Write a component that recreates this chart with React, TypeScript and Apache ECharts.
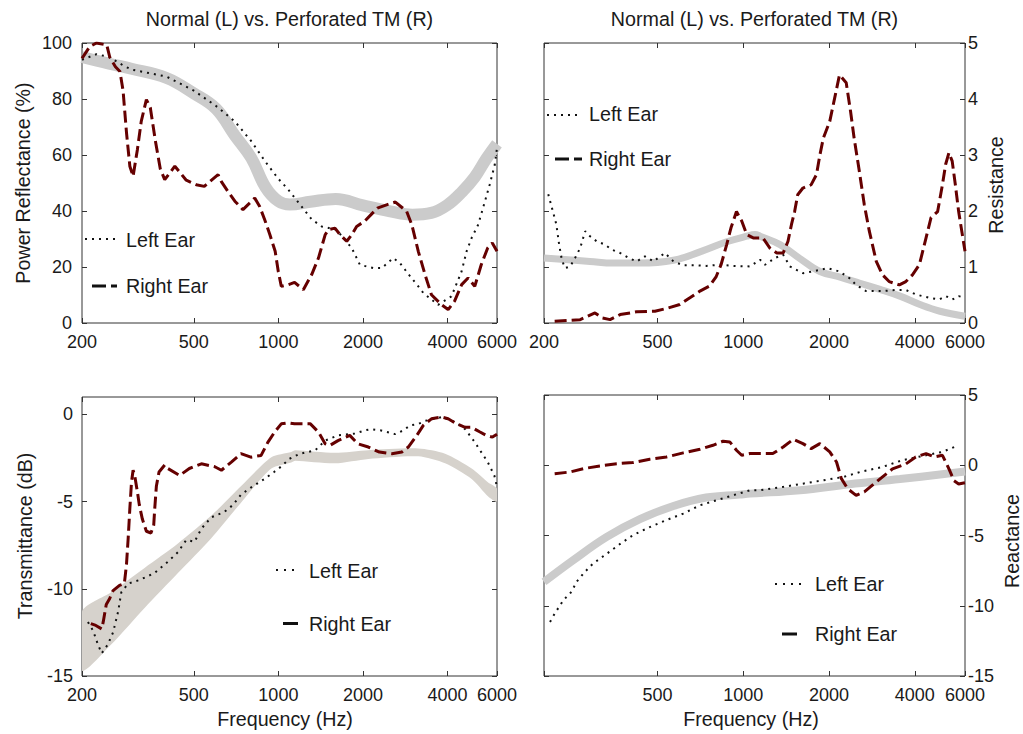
import React, { useEffect, useRef } from "react";
import * as echarts from "echarts";

const FONT = '"Liberation Sans", Arial, Helvetica, sans-serif';
const TEXT = "#1a1a1a";
const RED = "#650000";
const DOT = "#111111";
const BAND = "#cbcbcb";
const BAND3 = "#d6d2cc";

const xTicks = [200, 500, 1000, 2000, 4000, 6000];
const xTicksNoMin = [500, 1000, 2000, 4000, 6000];
const reflTicks = [0, 20, 40, 60, 80, 100];
const resTicks = [0, 1, 2, 3, 4, 5];
const transTicks = [-15, -10, -5, 0];
const reactTicks = [-15, -10, -5, 0, 5];

// Panel 1: Power reflectance (%)
const reflNormFreq = [200, 250, 300, 400, 500, 600, 700, 800, 900, 1000, 1100, 1300, 1600, 2000, 2500, 3000, 3500, 4000, 4500, 5000, 5500, 6000];
const reflNormVal = [95, 92.6, 90.8, 87.5, 82, 76.5, 67, 59, 48.5, 43.5, 42.3, 43.3, 44.3, 42, 39.9, 38.7, 39.3, 42.2, 46.8, 52.1, 58.7, 64];
const reflLeftFreq = [200, 225, 250, 280, 300, 400, 500, 600, 700, 800, 900, 1000, 1085, 1194, 1314, 1426, 1612, 1702, 1824, 1951, 2177, 2332, 2564, 2709, 2942, 3148, 3282, 3700, 4130, 4491, 4677, 4875, 5140, 5437, 5650, 5890, 6000];
const reflLeftVal = [94, 96, 95, 92, 90.5, 88, 83, 77.5, 72, 65, 57.5, 51.5, 47.6, 42.3, 37, 34.5, 33.3, 30.4, 26.8, 20.8, 19.6, 19.6, 23.2, 21.4, 16.7, 13.1, 10.7, 6.5, 9.5, 18.5, 25.6, 30.4, 35.1, 43.5, 49.4, 56.5, 62.5];
const reflRightFreq = [200, 213, 225, 245, 251, 263, 273, 280, 288, 296, 304, 315, 325, 339, 350, 365, 380, 394, 428, 470, 510, 545, 610, 626, 661, 700, 748, 780, 824, 857, 894, 933, 974, 999, 1024, 1085, 1142, 1227, 1314, 1389, 1467, 1507, 1590, 1659, 1751, 1824, 1899, 2025, 2137, 2250, 2441, 2609, 2860, 2985, 3148, 3326, 3506, 3812, 4020, 4237, 4491, 4733, 5000, 5273, 5559, 5773, 6000];
const reflRightVal = [94.5, 98.7, 100, 99.3, 95, 91.5, 89.8, 83, 68, 56, 52.4, 62, 72, 79.8, 77, 65, 55, 51.2, 56, 51, 49.4, 48.8, 53, 50.6, 47, 43.5, 40.5, 42.3, 44.6, 41.7, 36.9, 31.5, 25.6, 18.5, 13.1, 13.7, 14.5, 11.9, 17.3, 23.2, 31.5, 33.3, 33.9, 31.5, 29.2, 31.5, 34.5, 36.3, 38.7, 41, 42.3, 43.2, 39.9, 35.1, 25.6, 17.3, 10.1, 6.5, 4.8, 7.8, 13.7, 16.1, 13.1, 20.8, 26.8, 28.6, 25.6];

// Panel 2: Resistance
const resNormFreq = [200, 290, 350, 434, 569, 705, 875, 1029, 1100, 1146, 1346, 1582, 1858, 2187, 2568, 3020, 3549, 4170, 4904, 6000];
const resNormVal = [1.16, 1.1, 1.07, 1.07, 1.12, 1.27, 1.45, 1.55, 1.58, 1.55, 1.4, 1.15, 0.92, 0.82, 0.71, 0.6, 0.48, 0.33, 0.21, 0.12];
const resLeftFreq = [207, 215, 221, 226, 231, 237, 247, 257, 268, 279, 290, 306, 327, 346, 370, 397, 423, 452, 484, 531, 569, 616, 684, 741, 829, 920, 1056, 1146, 1193, 1292, 1381, 1458, 1620, 1755, 1975, 2177, 2360, 2490, 2700, 3082, 3430, 3720, 4032, 4490, 4870, 5140, 5420, 5700, 6000];
const resLeftVal = [2.3, 1.99, 1.76, 1.4, 1.13, 0.98, 1.01, 1.16, 1.34, 1.64, 1.55, 1.46, 1.4, 1.31, 1.25, 1.16, 1.1, 1.19, 1.1, 1.25, 1.1, 1.03, 1.03, 1.02, 1.04, 1.02, 1.01, 1.13, 1.04, 1.16, 1.22, 1.01, 0.89, 0.92, 0.98, 0.92, 0.8, 0.68, 0.57, 0.57, 0.59, 0.59, 0.51, 0.45, 0.42, 0.48, 0.42, 0.48, 0.45];
const resRightFreq = [218, 268, 302, 320, 341, 370, 423, 490, 538, 599, 650, 705, 762, 804, 836, 875, 906, 947, 988, 1029, 1084, 1172, 1239, 1312, 1381, 1436, 1477, 1515, 1553, 1620, 1732, 1807, 1858, 1910, 2012, 2094, 2177, 2298, 2380, 2450, 2555, 2660, 2770, 2930, 3082, 3250, 3530, 3720, 3925, 4150, 4380, 4560, 4810, 5000, 5130, 5270, 5410, 5550, 5700, 6000];
const resRightVal = [0.03, 0.06, 0.18, 0.09, 0.06, 0.15, 0.2, 0.21, 0.26, 0.33, 0.45, 0.57, 0.66, 0.83, 1.04, 1.4, 1.7, 1.99, 1.82, 1.58, 1.52, 1.52, 1.34, 1.25, 1.25, 1.46, 1.76, 1.99, 2.29, 2.41, 2.47, 2.65, 3.0, 3.3, 3.6, 4.02, 4.43, 4.29, 3.78, 3.3, 2.71, 2.11, 1.64, 1.1, 0.86, 0.74, 0.68, 0.74, 0.86, 1.04, 1.52, 1.88, 1.99, 2.47, 2.83, 3.04, 2.89, 2.47, 1.99, 1.28];

// Panel 3: Transmittance (dB)
const transNormFreq = [200, 254, 334, 439, 577, 759, 944, 1112, 1148, 1590, 2090, 3148, 3920, 4875, 5580, 6000];
const transNormLow = [-14.7, -13.2, -11.1, -9.1, -7.1, -4.8, -3.1, -2.75, -2.65, -2.8, -2.55, -2.4, -2.8, -3.7, -4.7, -5.0];
const transNormHigh = [-11.3, -10.2, -8.8, -7.4, -5.8, -3.9, -2.45, -2.15, -2.05, -2.2, -2.05, -1.95, -2.25, -3.1, -3.9, -4.25];
const transLeftFreq = [210, 219, 228, 235, 247, 258, 269, 276, 292, 320, 362, 404, 439, 470, 503, 532, 577, 641, 688, 736, 798, 892, 965, 1021, 1093, 1194, 1352, 1467, 1630, 1873, 2025, 2137, 2320, 2600, 2780, 2942, 3148, 3326, 3560, 3812, 4260, 4620, 5000, 5273, 5560, 5870, 6000];
const transLeftVal = [-11.9, -12.4, -13.2, -13.7, -13.2, -12.5, -11.3, -10.2, -9.7, -9.5, -9.1, -8.45, -7.9, -7.2, -7.3, -6.55, -5.9, -5.6, -5.2, -4.6, -4.2, -3.7, -3.3, -3.0, -2.55, -2.25, -2.06, -1.5, -1.2, -1.1, -0.92, -0.84, -0.92, -1.13, -0.92, -0.63, -0.55, -0.37, -0.27, -0.15, -0.44, -0.84, -1.59, -2.16, -2.73, -3.5, -4.16];
const transRightFreq = [215, 224, 235, 238, 244, 251, 258, 272, 283, 288, 292, 296, 300, 304, 308, 315, 320, 328, 339, 352, 360, 363, 368, 376, 394, 404, 445, 482, 532, 594, 627, 680, 736, 798, 868, 917, 970, 1024, 1081, 1142, 1247, 1300, 1389, 1467, 1525, 1630, 1795, 1918, 2090, 2288, 2535, 2750, 2900, 3110, 3280, 3506, 3812, 4020, 4310, 4620, 4875, 5220, 5490, 5780, 6000];
const transRightVal = [-12.0, -12.1, -12.3, -11.9, -10.9, -10.55, -10.1, -9.8, -9.7, -8.6, -7.1, -5.4, -3.9, -3.2, -3.5, -4.45, -5.2, -6.0, -6.7, -6.8, -6.35, -5.4, -4.1, -3.3, -2.9, -3.1, -3.5, -3.1, -2.83, -3.0, -3.2, -2.73, -2.25, -2.45, -2.35, -1.6, -1.01, -0.54, -0.48, -0.54, -0.54, -0.54, -1.01, -1.68, -1.78, -1.5, -1.2, -1.68, -1.87, -2.16, -2.25, -2.16, -1.87, -1.2, -0.63, -0.25, -0.15, -0.25, -0.54, -0.74, -0.74, -1.01, -1.2, -1.3, -1.13];

// Panel 4: Reactance
const reactNormFreq = [200, 253, 332, 434, 569, 741, 970, 1056, 1582, 2360, 3550, 6000];
const reactNormVal = [-8.3, -6.76, -5.1, -3.84, -2.9, -2.3, -2.09, -2.02, -1.78, -1.35, -0.98, -0.45];
const reactLeftFreq = [210, 218, 234, 250, 260, 278, 297, 332, 370, 410, 470, 538, 616, 705, 804, 920, 1056, 1146, 1381, 1620, 1910, 2250, 2568, 3082, 3620, 4380, 5000, 5700];
const reactLeftVal = [-11.15, -10.56, -9.6, -9.0, -8.3, -7.6, -7.0, -6.3, -5.6, -4.98, -4.4, -3.9, -3.44, -2.85, -2.5, -2.14, -1.78, -1.78, -1.54, -1.31, -1.07, -0.83, -0.48, -0.12, 0.36, 0.71, 0.95, 1.42];
const reactRightFreq = [218, 247, 275, 314, 360, 410, 470, 538, 616, 705, 783, 850, 897, 947, 988, 1056, 1146, 1270, 1381, 1500, 1620, 1732, 1858, 2012, 2125, 2210, 2325, 2490, 2660, 2840, 3082, 3340, 3720, 4030, 4380, 4680, 5000, 5270, 5490, 5700, 6000];
const reactRightVal = [-0.6, -0.48, -0.24, -0.05, 0.11, 0.19, 0.43, 0.59, 0.88, 1.14, 1.42, 1.71, 1.66, 1.07, 0.71, 0.83, 0.83, 0.83, 1.3, 1.85, 1.54, 1.18, 1.54, 0.95, 0.23, -0.95, -1.67, -2.14, -1.9, -1.42, -0.83, -0.26, 0.09, 0.59, 0.83, 0.59, 0.71, -0.26, -1.1, -1.33, -1.24];

const zip = (f: number[], v: number[]) => f.map((x, i) => [x, v[i]]);

const grids = [
  { left: 82, top: 43, width: 415, height: 280 },
  { left: 544, top: 43, width: 421, height: 280 },
  { left: 82, top: 397, width: 415, height: 279 },
  { left: 544, top: 395, width: 421, height: 281 },
];

const tickStyle = { color: "#333", width: 1 };
const TXT_SIZE = 19.7;

function makeX(gi: number, pos: string, labels: number[] | null) {
  return {
    type: "log",
    logBase: 10,
    gridIndex: gi,
    position: pos,
    min: 200,
    max: 6000,
    axisLine: { show: false, onZero: false },
    axisTick: { show: true, inside: true, length: 5, customValues: xTicks, lineStyle: tickStyle },
    axisLabel: {
      show: !!labels,
      customValues: labels || xTicks,
      formatter: (v: number) => String(Math.round(v)),
      fontSize: 18,
      fontFamily: FONT,
      color: TEXT,
      margin: 10,
    },
    splitLine: { show: false },
    minorTick: { show: false },
    minorSplitLine: { show: false },
  };
}

function makeY(gi: number, pos: string, min: number, max: number, ticks: number[], showLabels: boolean, margin: number) {
  return {
    type: "value",
    gridIndex: gi,
    position: pos,
    min,
    max,
    axisLine: { show: false, onZero: false },
    axisTick: { show: true, inside: true, length: 5, customValues: ticks, lineStyle: tickStyle },
    axisLabel: {
      show: showLabels,
      customValues: ticks,
      fontSize: 18,
      fontFamily: FONT,
      color: TEXT,
      margin,
    },
    splitLine: { show: false },
  };
}

function bandLine(gi: number, yi: number, data: number[][], width: number) {
  return {
    type: "line",
    xAxisIndex: gi * 2,
    yAxisIndex: yi,
    data,
    showSymbol: false,
    symbol: "none",
    smooth: 0.4,
    clip: true,
    silent: true,
    z: 1,
    lineStyle: { color: BAND, width, cap: "butt" },
  };
}
function dotLine(gi: number, yi: number, data: number[][]) {
  return {
    type: "line",
    xAxisIndex: gi * 2,
    yAxisIndex: yi,
    data,
    showSymbol: false,
    symbol: "none",
    clip: true,
    silent: true,
    z: 3,
    lineStyle: { color: DOT, width: 2, type: [2, 5] },
  };
}
function dashLine(gi: number, yi: number, data: number[][]) {
  return {
    type: "line",
    xAxisIndex: gi * 2,
    yAxisIndex: yi,
    data,
    showSymbol: false,
    symbol: "none",
    clip: true,
    silent: true,
    z: 4,
    lineStyle: { color: RED, width: 3, type: [12, 5] },
  };
}

function txt(x: number, y: number, text: string, align = "left", rotation = 0) {
  return {
    type: "text",
    x,
    y,
    rotation,
    silent: true,
    style: { text, fontSize: TXT_SIZE, fontFamily: FONT, fill: TEXT, align, verticalAlign: "middle" },
  };
}
function sample(x1: number, x2: number, y: number, dash: number[] | null, width: number) {
  return {
    type: "line",
    silent: true,
    shape: { x1, y1: y, x2, y2: y },
    style: { stroke: DOT, lineWidth: width, lineDash: dash || undefined },
  };
}

export default function App() {
  const ref = useRef<HTMLDivElement>(null);
  useEffect(() => {
    if (!ref.current) return;
    const chart = echarts.init(ref.current, null, { renderer: "svg" });
    const upper = zip(transNormFreq, transNormHigh);
    const lower = zip(transNormFreq, transNormLow).reverse();
    const option: any = {
      animation: false,
      backgroundColor: "#ffffff",
      grid: grids.map((g) => ({ ...g, show: true, borderColor: "#333", borderWidth: 1, backgroundColor: "transparent", containLabel: false })),
      xAxis: [
        makeX(0, "bottom", xTicks), makeX(0, "top", null),
        makeX(1, "bottom", xTicks), makeX(1, "top", null),
        makeX(2, "bottom", xTicks), makeX(2, "top", null),
        makeX(3, "bottom", xTicksNoMin), makeX(3, "top", null),
      ],
      yAxis: [
        makeY(0, "left", 0, 100, reflTicks, true, 10), makeY(0, "right", 0, 100, reflTicks, false, 3),
        makeY(1, "left", 0, 5, resTicks, false, 3), makeY(1, "right", 0, 5, resTicks, true, 3),
        makeY(2, "left", -15, 1, transTicks, true, 9), makeY(2, "right", -15, 1, transTicks, false, 3),
        makeY(3, "left", -15, 5, reactTicks, false, 3), makeY(3, "right", -15, 5, reactTicks, true, 3),
      ],
      series: [
        bandLine(0, 0, zip(reflNormFreq, reflNormVal), 12),
        dotLine(0, 0, zip(reflLeftFreq, reflLeftVal)),
        dashLine(0, 0, zip(reflRightFreq, reflRightVal)),

        bandLine(1, 3, zip(resNormFreq, resNormVal), 7),
        dotLine(1, 3, zip(resLeftFreq, resLeftVal)),
        dashLine(1, 3, zip(resRightFreq, resRightVal)),

        {
          type: "custom",
          coordinateSystem: "cartesian2d",
          xAxisIndex: 4,
          yAxisIndex: 4,
          data: [[transNormFreq[0], transNormLow[0]]],
          encode: { x: 0, y: 1 },
          clip: true,
          silent: true,
          z: 1,
          renderItem: (_params: any, api: any) => {
            const pts = upper.map((p) => api.coord(p)).concat(lower.map((p) => api.coord(p)));
            return {
              type: "polygon",
              shape: { points: pts, smooth: 0.25 },
              style: { fill: BAND3, stroke: "none" },
            };
          },
        },
        dotLine(2, 4, zip(transLeftFreq, transLeftVal)),
        dashLine(2, 4, zip(transRightFreq, transRightVal)),

        bandLine(3, 7, zip(reactNormFreq, reactNormVal), 8),
        dotLine(3, 7, zip(reactLeftFreq, reactLeftVal)),
        dashLine(3, 7, zip(reactRightFreq, reactRightVal)),
      ],
      graphic: [
        txt(289.5, 19, "Normal (L) vs. Perforated TM (R)", "center"),
        txt(754.5, 19, "Normal (L) vs. Perforated TM (R)", "center"),
        txt(22.5, 183, "Power Reflectance (%)", "center", Math.PI / 2),
        txt(996, 185, "Resistance", "center", Math.PI / 2),
        txt(25, 536, "Transmittance (dB)", "center", Math.PI / 2),
        txt(1012, 541, "Reactance", "center", Math.PI / 2),
        txt(285, 719, "Frequency (Hz)", "center"),
        txt(751, 719, "Frequency (Hz)", "center"),

        sample(85, 118, 239, [2, 5], 2),
        txt(126, 239.5, "Left Ear"),
        sample(92, 117, 286, [14, 5], 3),
        txt(126, 286, "Right Ear"),

        sample(547, 582, 115, [2, 5], 2),
        txt(589, 114, "Left Ear"),
        sample(555, 582, 159, [14, 5], 3),
        txt(589, 159, "Right Ear"),

        sample(276, 295, 570, [2, 6], 2),
        txt(309, 571, "Left Ear"),
        sample(283, 298, 623.5, null, 3),
        txt(309, 624, "Right Ear"),

        sample(775, 802, 584, [2, 6], 2),
        txt(815, 584, "Left Ear"),
        sample(782, 797, 634, null, 3),
        txt(815, 634, "Right Ear"),
      ],
    };
    chart.setOption(option);
    return () => chart.dispose();
  }, []);
  return (
    <div
      ref={ref}
      style={{ position: "absolute", left: 0, top: 0, width: 1023, height: 734, background: "#fff" }}
    />
  );
}
